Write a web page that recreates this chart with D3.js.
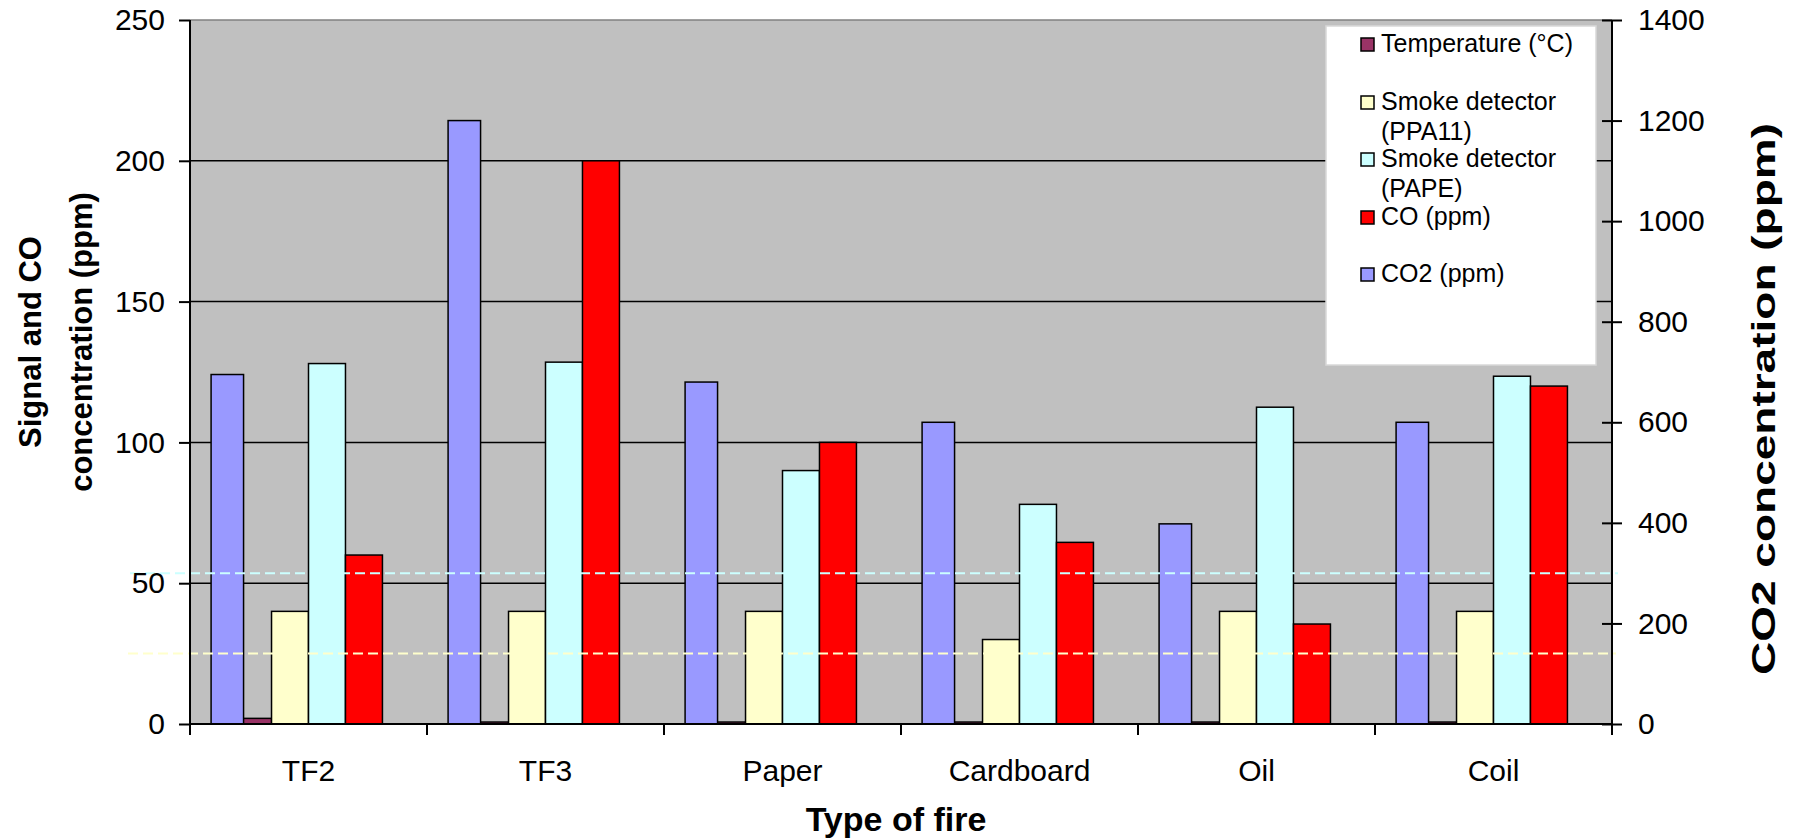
<!DOCTYPE html>
<html>
<head>
<meta charset="utf-8">
<script src="https://cdn.jsdelivr.net/npm/d3@7"></script>
<style>
  html, body { margin: 0; padding: 0; background: #fff; }
  svg { display: block; font-family: "Liberation Sans", Arial, sans-serif; }
</style>
</head>
<body>
<svg id="chart" width="1794" height="839"></svg>
<script>
// ---- Data ----
const categories = ["TF2", "TF3", "Paper", "Cardboard", "Oil", "Coil"];
const temperature = [2, 0.7, 0.7, 0.7, 0.7, 0.7];
const smokePPA11 = [40, 40, 40, 30, 40, 40];
const smokePAPE = [128, 128.5, 90, 78, 112.5, 123.5];
const coPpm = [60, 200, 100, 64.5, 35.5, 120];
const co2Ppm = [695, 1200, 680, 600, 398, 600];
const leftTicks = [0, 50, 100, 150, 200, 250];
const rightTicks = [0, 200, 400, 600, 800, 1000, 1200, 1400];
const thresholdPAPE = 300;   // right-axis value of cyan dashed line
const thresholdPPA11 = 25;   // left-axis value of yellow dashed line

const primarySeries = [
  { name: "Temperature (°C)", values: temperature, color: "#993366" },
  { name: "Smoke detector (PPA11)", values: smokePPA11, color: "#FFFFCC" },
  { name: "Smoke detector (PAPE)", values: smokePAPE, color: "#CCFFFF" },
  { name: "CO (ppm)", values: coPpm, color: "#FF0000" }
];
const secondarySeries = { name: "CO2 (ppm)", values: co2Ppm, color: "#9999FF" };

// ---- Layout ----
const svg = d3.select("#chart");
const L = 190, R = 1612, T = 20, B = 724;
const FONT = "'Liberation Sans', Arial, sans-serif";

const x = d3.scaleBand().domain(categories).range([L, R]).padding(0);
const bw = x.bandwidth();
const yL = d3.scaleLinear().domain([0, 250]).range([B, T]);
const yR = d3.scaleLinear().domain([0, 1400]).range([B, T]);

const inner = d3.scaleBand().domain(primarySeries.map(s => s.name))
  .range([bw * 0.188, bw * (0.188 + 4 * 0.156)]).padding(0);
const co2Off = bw * 0.089, co2W = bw * 0.137;

// plot area
svg.append("rect").attr("x", L).attr("y", T).attr("width", R - L).attr("height", B - T)
  .attr("fill", "#C0C0C0");
svg.append("line").attr("x1", L).attr("x2", R).attr("y1", T).attr("y2", T)
  .attr("stroke", "#808080").attr("stroke-width", 1.5);

// gridlines
svg.append("g").selectAll("line").data(leftTicks.filter(t => t > 0 && t < 250)).join("line")
  .attr("x1", L).attr("x2", R).attr("y1", d => yL(d)).attr("y2", d => yL(d))
  .attr("stroke", "#000").attr("stroke-width", 1.5);

// primary bars
const gP = svg.append("g");
primarySeries.forEach(s => {
  gP.append("g").selectAll("rect").data(categories).join("rect")
    .attr("x", (c) => x(c) + inner(s.name))
    .attr("width", inner.bandwidth())
    .attr("y", (c, i) => yL(s.values[i]))
    .attr("height", (c, i) => B - yL(s.values[i]))
    .attr("fill", s.color).attr("stroke", "#000").attr("stroke-width", 1.5);
});

// secondary bars (CO2) drawn on top
svg.append("g").selectAll("rect").data(categories).join("rect")
  .attr("x", c => x(c) + co2Off)
  .attr("width", co2W)
  .attr("y", (c, i) => yR(secondarySeries.values[i]))
  .attr("height", (c, i) => B - yR(secondarySeries.values[i]))
  .attr("fill", secondarySeries.color).attr("stroke", "#000").attr("stroke-width", 1.5);

// threshold dashed lines
svg.append("line").attr("x1", 130).attr("x2", 1618)
  .attr("y1", yR(thresholdPAPE)).attr("y2", yR(thresholdPAPE))
  .attr("stroke", "#CCFFFF").attr("stroke-width", 2).attr("stroke-dasharray", "10,5");
svg.append("line").attr("x1", 128).attr("x2", 1616)
  .attr("y1", yL(thresholdPPA11)).attr("y2", yL(thresholdPPA11))
  .attr("stroke", "#FFFFCC").attr("stroke-width", 2).attr("stroke-dasharray", "10,5");

// left axis
const axL = svg.append("g").attr("transform", `translate(${L},0)`)
  .call(d3.axisLeft(yL).tickValues(leftTicks).tickSize(11).tickPadding(14).tickFormat(d3.format("d")));
axL.select(".domain").attr("stroke", "#000").attr("stroke-width", 2).attr("d", `M0,${T}V${B + 11}`);
axL.selectAll(".tick line").attr("stroke", "#000").attr("stroke-width", 2);
axL.selectAll(".tick text").attr("font-size", 30).attr("fill", "#000").attr("font-family", FONT);

// right axis
const axR = svg.append("g").attr("transform", `translate(${R},0)`)
  .call(d3.axisRight(yR).tickValues(rightTicks).tickSize(10).tickPadding(16).tickFormat(d3.format("d")));
axR.select(".domain").attr("stroke", "#000").attr("stroke-width", 2).attr("d", `M0,${T}V${B + 11}`);
axR.selectAll(".tick line").attr("stroke", "#000").attr("stroke-width", 2).attr("x1", -10);
axR.selectAll(".tick text").attr("font-size", 30).attr("fill", "#000").attr("font-family", FONT);

// bottom axis
const axB = svg.append("g").attr("transform", `translate(0,${B})`)
  .call(d3.axisBottom(x).tickSize(0).tickPadding(36));
axB.select(".domain").attr("stroke", "#000").attr("stroke-width", 2).attr("d", `M${L},0H${R}`);
axB.selectAll(".tick text").attr("font-size", 30).attr("fill", "#000").attr("font-family", FONT);
// category separator ticks
svg.append("g").selectAll("line").data(categories.slice(1)).join("line")
  .attr("x1", c => x(c)).attr("x2", c => x(c)).attr("y1", B).attr("y2", B + 11)
  .attr("stroke", "#000").attr("stroke-width", 2);

// axis titles
svg.append("text").attr("x", 896).attr("y", 831)
  .attr("text-anchor", "middle").attr("font-size", 34).attr("font-weight", "bold")
  .text("Type of fire");
const lt = svg.append("text").attr("transform", "translate(0,342) rotate(-90)")
  .attr("text-anchor", "middle").attr("font-size", 31).attr("font-weight", "bold");
lt.append("tspan").attr("x", 0).attr("y", 41).text("Signal and CO");
lt.append("tspan").attr("x", 0).attr("y", 92).text("concentration (ppm)");
svg.append("text").attr("transform", "translate(1775,399) rotate(-90)")
  .attr("text-anchor", "middle").attr("font-size", 33).attr("font-weight", "bold")
  .attr("textLength", 552).attr("lengthAdjust", "spacingAndGlyphs")
  .text("CO2 concentration (ppm)");

// legend
const lg = svg.append("g");
lg.append("rect").attr("x", 1326).attr("y", 26).attr("width", 270).attr("height", 339)
  .attr("fill", "#fff").attr("stroke", "#D8D8D8").attr("stroke-width", 1.5);
const legendItems = [
  { lines: ["Temperature (°C)"], color: primarySeries[0].color, base: 52 },
  { lines: ["Smoke detector", "(PPA11)"], color: primarySeries[1].color, base: 110 },
  { lines: ["Smoke detector", "(PAPE)"], color: primarySeries[2].color, base: 167 },
  { lines: ["CO (ppm)"], color: primarySeries[3].color, base: 225 },
  { lines: ["CO2 (ppm)"], color: secondarySeries.color, base: 282 }
];
legendItems.forEach(it => {
  lg.append("rect").attr("x", 1361).attr("y", it.base - 14).attr("width", 13).attr("height", 13)
    .attr("fill", it.color).attr("stroke", "#000").attr("stroke-width", 1.5);
  const t = lg.append("text").attr("font-size", 25).attr("fill", "#000");
  it.lines.forEach((ln, k) => {
    t.append("tspan").attr("x", 1381).attr("y", it.base + k * 30).text(ln);
  });
});
</script>
</body>
</html>
